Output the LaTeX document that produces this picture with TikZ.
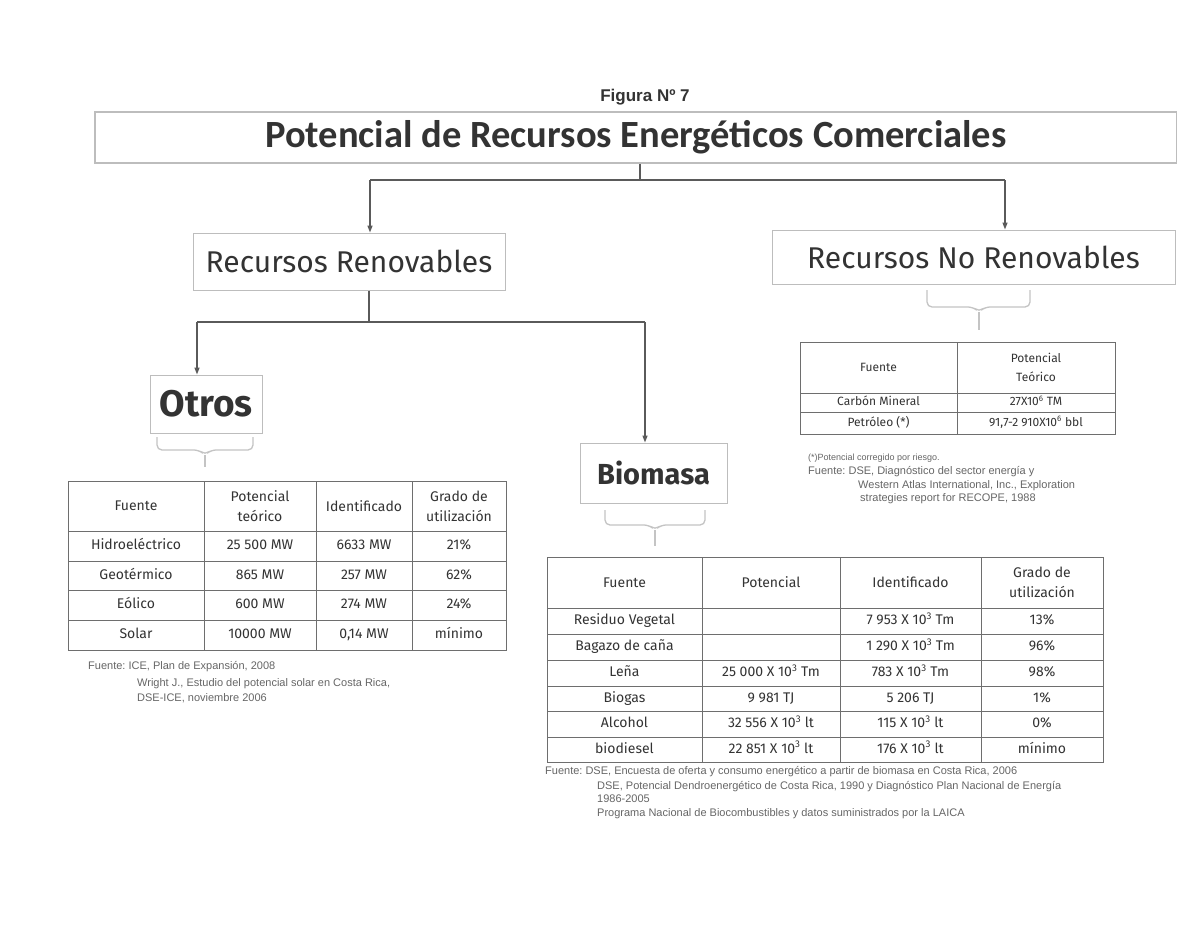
\documentclass[tikz,border=0pt]{standalone}
\usepackage{fontspec}
\setmainfont{Fira Sans}
\newfontfamily\titlefont{Carlito}
\newfontfamily\notefont{Liberation Sans}
\usetikzlibrary{arrows.meta}
\definecolor{ink}{HTML}{333333}
\definecolor{connc}{HTML}{5A5A5A}
\definecolor{boxline}{HTML}{BDBDBD}
\definecolor{braceline}{HTML}{C4C4C4}
\definecolor{gridc}{HTML}{6E6E6E}
\definecolor{notec}{HTML}{666666}
\frenchspacing
\begin{document}
\begin{tikzpicture}[x=1pt,y=-1pt,
  labelbox/.style={draw=boxline, line width=1pt, fill=white, inner sep=0pt, text=ink},
  conn/.style={draw=connc, line width=1.3pt},
  arr/.style={conn, -{Triangle[length=7pt,width=5pt]}},
  bracepath/.style={draw=braceline, line width=1.3pt, rounded corners=5pt},
  stem/.style={draw=braceline, line width=1.1pt},
  gridline/.style={draw=gridc, line width=1pt},
  head/.style={text=ink, inner sep=0pt, align=center, font=\fontsize{14}{20}\selectfont},
  cell/.style={text=ink, inner sep=0pt, text height=10pt, text depth=3pt, font=\fontsize{14}{20}\selectfont},
  smallhead/.style={text=ink, inner sep=0pt, align=center, font=\fontsize{12}{19}\selectfont},
  smallcell/.style={text=ink, inner sep=0pt, text height=8.5pt, text depth=2.5pt, font=\fontsize{12}{19}\selectfont},
  note/.style={text=notec, inner sep=0pt, anchor=base west, font=\notefont\fontsize{11}{12}\selectfont},
]
\useasboundingbox[fill=white] (0,0) rectangle (1177,937);

% heading
\node[text=ink, font=\notefont\bfseries\fontsize{17}{20}\selectfont] (fig) at (645,97) {Figura Nº 7};
\node[draw=boxline, line width=1.6pt, fill=white, inner sep=0pt, text=ink,
      minimum width=1082pt, minimum height=51pt,
      font=\titlefont\bfseries\fontsize{38.5}{40}\selectfont] (title) at (636,137.5)
      {Potencial de Recursos Energéticos Comerciales};

% second level
\node[labelbox, minimum width=312pt, minimum height=57pt, font=\fontsize{30}{32}\selectfont] (rr) at (349,261.5) {Recursos Renovables};
\node[labelbox, minimum width=403pt, minimum height=54pt, font=\fontsize{30}{32}\selectfont] (nr) at (973.5,257) {Recursos No Renovables};

% third level
\node[labelbox, minimum width=112pt, minimum height=58pt, font=\bfseries\fontsize{37}{38}\selectfont] (otros) at (206,404) {Otros};
\node[labelbox, minimum width=147pt, minimum height=60pt, font=\bfseries\fontsize{29}{32}\selectfont] (bio) at (653.5,473) {Biomasa};

% connectors
\coordinate (j0) at (640,180);
\coordinate (jl) at (370,180);
\coordinate (jr) at (1005,180);
\draw[conn] (title.south -| j0) -- (j0);
\draw[conn] (jl) -- (jr);
\draw[arr] (jl) -- (jl |- rr.north);
\draw[arr] (jr) -- (jr |- nr.north);

\coordinate (k0) at (369,322);
\coordinate (kl) at (197,322);
\coordinate (kr) at (645,322);
\draw[conn] (rr.south -| k0) -- (k0);
\draw[conn] (kl) -- (kr);
\draw[arr] (kl) -- (kl |- otros.north);
\draw[arr] (kr) -- (kr |- bio.north);

% braces
\draw[bracepath] (157,437) -- (157,450) -- (199,450) -- (205,455) -- (211,450) -- (253,450) -- (253,437);
\draw[stem] (205,455) -- (205,467);
\draw[bracepath] (605,510) -- (605,525) -- (649,525) -- (655,530) -- (661,525) -- (705,525) -- (705,510);
\draw[stem] (655,530) -- (655,546);
\draw[bracepath] (927,290) -- (927,307) -- (973,307) -- (979,312) -- (985,307) -- (1030,307) -- (1030,290);
\draw[stem] (979,312) -- (979,330);

% ---------- Otros table ----------
\draw[gridline] (68,481) rectangle (506,650);
\foreach \x in {204,316,412} \draw[gridline] (\x,481) -- (\x,650);
\foreach \y in {531,561,590,620} \draw[gridline] (68,\y) -- (506,\y);
\node[head] (o11) at (136,506) {Fuente};
\node[head] (o12) at (260,506) {Potencial\\teórico};
\node[head] (o13) at (364,506) {Identificado};
\node[head] (o14) at (459,506) {Grado de\\utilización};
\node[cell] (o21) at (136,546) {Hidroeléctrico};
\node[cell] (o22) at (260,546) {25 500 MW};
\node[cell] (o23) at (364,546) {6633 MW};
\node[cell] (o24) at (459,546) {21\%};
\node[cell] (o31) at (136,575.5) {Geotérmico};
\node[cell] (o32) at (260,575.5) {865 MW};
\node[cell] (o33) at (364,575.5) {257 MW};
\node[cell] (o34) at (459,575.5) {62\%};
\node[cell] (o41) at (136,605) {Eólico};
\node[cell] (o42) at (260,605) {600 MW};
\node[cell] (o43) at (364,605) {274 MW};
\node[cell] (o44) at (459,605) {24\%};
\node[cell] (o51) at (136,635) {Solar};
\node[cell] (o52) at (260,635) {10000 MW};
\node[cell] (o53) at (364,635) {0,14 MW};
\node[cell] (o54) at (459,635) {mínimo};
\node[note] (on1) at (88,669) {Fuente: ICE, Plan de Expansión, 2008};
\node[note] (on2) at (137,686) {Wright J., Estudio del potencial solar en Costa Rica,};
\node[note] (on3) at (137,701) {DSE-ICE, noviembre 2006};

% ---------- Biomasa table ----------
\draw[gridline] (547,557) rectangle (1103,762);
\foreach \x in {702,840,981} \draw[gridline] (\x,557) -- (\x,762);
\foreach \y in {608,634,660,686,711,737} \draw[gridline] (547,\y) -- (1103,\y);
\node[head] (b11) at (624.5,582.5) {Fuente};
\node[head] (b12) at (771,582.5) {Potencial};
\node[head] (b13) at (910.5,582.5) {Identificado};
\node[head] (b14) at (1042,582.5) {Grado de\\utilización};
\node[cell] (b21) at (624.5,621) {Residuo Vegetal};
\node[cell] (b23) at (910.5,621) {7 953 X 10\textsuperscript{3} Tm};
\node[cell] (b24) at (1042,621) {13\%};
\node[cell] (b31) at (624.5,647) {Bagazo de caña};
\node[cell] (b33) at (910.5,647) {1 290 X 10\textsuperscript{3} Tm};
\node[cell] (b34) at (1042,647) {96\%};
\node[cell] (b41) at (624.5,673) {Leña};
\node[cell] (b42) at (771,673) {25 000 X 10\textsuperscript{3} Tm};
\node[cell] (b43) at (910.5,673) {783 X 10\textsuperscript{3} Tm};
\node[cell] (b44) at (1042,673) {98\%};
\node[cell] (b51) at (624.5,698.5) {Biogas};
\node[cell] (b52) at (771,698.5) {9 981 TJ};
\node[cell] (b53) at (910.5,698.5) {5 206 TJ};
\node[cell] (b54) at (1042,698.5) {1\%};
\node[cell] (b61) at (624.5,724) {Alcohol};
\node[cell] (b62) at (771,724) {32 556 X 10\textsuperscript{3} lt};
\node[cell] (b63) at (910.5,724) {115 X 10\textsuperscript{3} lt};
\node[cell] (b64) at (1042,724) {0\%};
\node[cell] (b71) at (624.5,749.5) {biodiesel};
\node[cell] (b72) at (771,749.5) {22 851 X 10\textsuperscript{3} lt};
\node[cell] (b73) at (910.5,749.5) {176 X 10\textsuperscript{3} lt};
\node[cell] (b74) at (1042,749.5) {mínimo};
\node[note] (bn1) at (545,774) {Fuente: DSE, Encuesta de oferta y consumo energético a partir de biomasa en Costa Rica, 2006};
\node[note] (bn2) at (597,789) {DSE, Potencial Dendroenergético de Costa Rica, 1990 y Diagnóstico Plan Nacional de Energía};
\node[note] (bn3) at (597,802) {1986-2005};
\node[note] (bn4) at (597,816) {Programa Nacional de Biocombustibles y datos suministrados por la LAICA};

% ---------- No renovables table ----------
\draw[gridline] (800,342) rectangle (1115,434);
\draw[gridline] (957,342) -- (957,434);
\foreach \y in {393,412} \draw[gridline] (800,\y) -- (1115,\y);
\node[smallhead] (n11) at (878.5,367.5) {Fuente};
\node[smallhead] (n12) at (1036,367.5) {Potencial\\Teórico};
\node[smallcell] (n21) at (878.5,402.5) {Carbón Mineral};
\node[smallcell] (n22) at (1036,402.5) {27X10\textsuperscript{6} TM};
\node[smallcell] (n31) at (878.5,423) {Petróleo (*)};
\node[smallcell] (n32) at (1036,423) {91,7-2 910X10\textsuperscript{6} bbl};
\node[note, font=\notefont\fontsize{9}{10}\selectfont] (nn1) at (808,460) {(*)Potencial corregido por riesgo.};
\node[note] (nn2) at (808,474) {Fuente: DSE, Diagnóstico del sector energía y};
\node[note] (nn3) at (858,488) {Western Atlas International, Inc., Exploration};
\node[note] (nn4) at (860,501) {strategies report for RECOPE, 1988};
\end{tikzpicture}
\end{document}
